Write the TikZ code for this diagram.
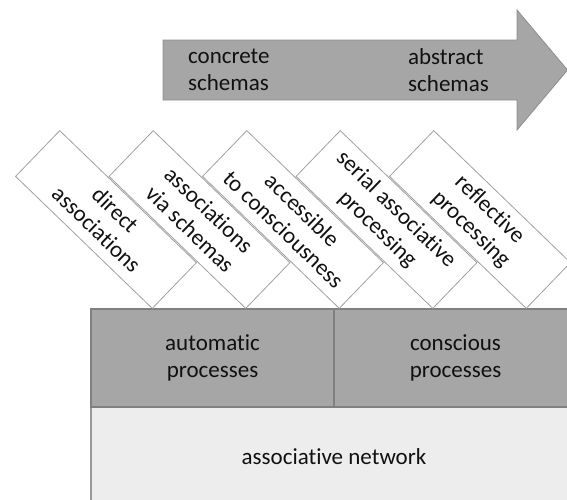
\documentclass[tikz,border=0pt]{standalone}
\usepackage{fontspec}
\setmainfont{Carlito}[Ligatures=NoCommon]
\definecolor{darkfill}{HTML}{A6A6A6}
\definecolor{darkline}{HTML}{808080}
\definecolor{lightfill}{HTML}{EDEDED}
\definecolor{thinline}{HTML}{A0A0A0}
\definecolor{txt}{HTML}{111111}
\begin{document}
\begin{tikzpicture}[x=1pt,y=-1pt,
  every node/.style={font=\fontsize{23}{27}\selectfont, text=txt},
  tilted/.style={draw=thinline, fill=white, line width=0.8pt, rotate=-44,
    minimum width=190pt, minimum height=63.6pt, inner sep=0pt, align=center},
  procbox/.style={draw=darkline, fill=darkfill, line width=2pt,
    minimum width=243pt, minimum height=98pt, inner sep=0pt, align=center},
  netbox/.style={draw=darkline!80, fill=lightfill, line width=1.6pt,
    minimum width=486pt, minimum height=100pt, inner sep=0pt, align=center},
  arrowshape/.style={draw=darkline!90, fill=darkfill, line width=0.8pt},
  arrowtext/.style={anchor=west, align=left, inner sep=0pt}]
\useasboundingbox (0,0) rectangle (567,499);
\clip (0,0) rectangle (567,499);
% arrow
\draw[arrowshape] (163,40) -- (517,40) -- (517,10) -- (567.5,70) -- (517,130) -- (517,100) -- (163,100) -- cycle;
\node[arrowtext] (concrete) at (188,70) {concrete\\schemas};
\node[arrowtext] (abstract) at (408,70) {abstract\\schemas};
% bottom boxes
\node[netbox] (network) at (334,457) {associative network};
\node[procbox] (automatic) at (212.5,358) {automatic\\processes};
\node[procbox] (conscious) at (455.5,358) {conscious\\processes};
% tilted boxes
\node[tilted] (direct) at (106,219.5) {direct\\associations};
\node[tilted] (viaschemas) at (199.5,219.5) {associations\\via schemas};
\node[tilted] (accessible) at (293,219.5) {accessible\\to consciousness};
\node[tilted] (serial) at (386.5,219.5) {serial associative\\processing};
\node[tilted] (reflective) at (480,219.5) {reflective\\processing};
\end{tikzpicture}
\end{document}
